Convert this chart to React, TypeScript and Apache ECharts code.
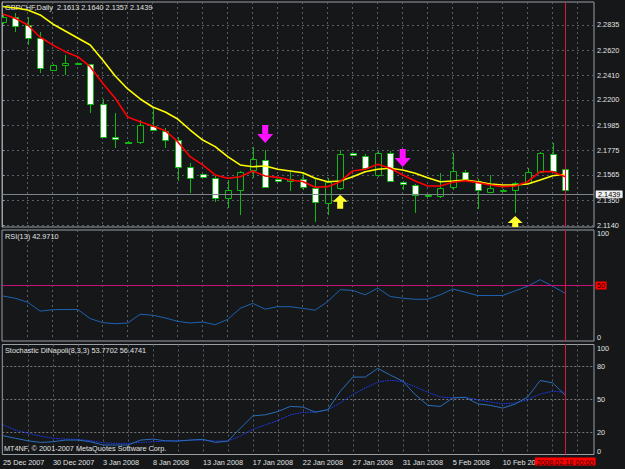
import React, { useEffect, useRef } from 'react';
import * as echarts from 'echarts';

// ---------- data ----------
const SYMBOL_HEADER = 'GBPCHF,Daily  2.1613 2.1640 2.1357 2.1439';
const RSI_HEADER = 'RSI(13) 42.9710';
const STOCH_HEADER = 'Stochastic DiNapoli(8,3,3) 53.7702 56.4741';
const COPYRIGHT = 'MT4NF, \u00A9 2001-2007 MetaQuotes Software Corp.';

const DATE_LABELS = ['25 Dec 2007', '30 Dec 2007', '3 Jan 2008', '8 Jan 2008', '13 Jan 2008', '17 Jan 2008', '22 Jan 2008', '27 Jan 2008', '31 Jan 2008', '5 Feb 2008', '10 Feb 2008'];
const DATE_LABEL_BARS = [0, 4, 8, 12, 16, 20, 24, 28, 32, 36, 40];
const CURRENT_BAR = 45;
const CURRENT_TIME = '2008.02.18 00:00';
const LAST_PRICE = 2.1439;

const PRICE_TICKS = [2.1140, 2.1350, 2.1565, 2.1775, 2.1985, 2.2200, 2.2410, 2.2620, 2.2835];
const RSI_LABELS = [0, 100];
const RSI_LEVEL = 50;
const STOCH_LABELS = [0, 20, 50, 80, 100];
const STOCH_LEVELS = [20, 50, 80];

const OPEN = [2.2863, 2.2900, 2.2835, 2.2727, 2.2454, 2.2494, 2.2508, 2.2502, 2.2163, 2.1888, 2.1846, 2.1846, 2.1979, 2.1939, 2.1860, 2.1634, 2.1570, 2.1536, 2.1366, 2.1437, 2.1606, 2.1691, 2.1527, 2.1513, 2.1527, 2.1451, 2.1329, 2.1451, 2.1748, 2.1725, 2.1564, 2.1748, 2.1507, 2.1479, 2.1392, 2.1386, 2.1460, 2.1587, 2.1515, 2.1422, 2.1437, 2.1437, 2.1499, 2.1592, 2.1742, 2.1613];
const HIGH = [2.2928, 2.2937, 2.2903, 2.2778, 2.2505, 2.2581, 2.2516, 2.2505, 2.2204, 2.2089, 2.1850, 2.2030, 2.2140, 2.1962, 2.1886, 2.1663, 2.1575, 2.1555, 2.1521, 2.1598, 2.1799, 2.1776, 2.1532, 2.1592, 2.1581, 2.1536, 2.1538, 2.1776, 2.1750, 2.1742, 2.1770, 2.1767, 2.1510, 2.1484, 2.1399, 2.1578, 2.1753, 2.1606, 2.1530, 2.1564, 2.1441, 2.1505, 2.1621, 2.1761, 2.1838, 2.1640];
const LOW = [2.2843, 2.2776, 2.2666, 2.2428, 2.2445, 2.2411, 2.2505, 2.2089, 2.1886, 2.1790, 2.1840, 2.1824, 2.1937, 2.1790, 2.1515, 2.1409, 2.1545, 2.1337, 2.1282, 2.1225, 2.1536, 2.1460, 2.1508, 2.1428, 2.1437, 2.1168, 2.1225, 2.1437, 2.1729, 2.1606, 2.1547, 2.1505, 2.1437, 2.1239, 2.1389, 2.1366, 2.1437, 2.1513, 2.1273, 2.1411, 2.1434, 2.1244, 2.1495, 2.1585, 2.1594, 2.1357];
const CLOSE = [2.2905, 2.2827, 2.2725, 2.2473, 2.2494, 2.2516, 2.2511, 2.2166, 2.1888, 2.1866, 2.1844, 2.1988, 2.1945, 2.1860, 2.1634, 2.1536, 2.1549, 2.1366, 2.1437, 2.1592, 2.1697, 2.1465, 2.1513, 2.1527, 2.1465, 2.1337, 2.1507, 2.1739, 2.1731, 2.1621, 2.1748, 2.1513, 2.1487, 2.1394, 2.1396, 2.1456, 2.1598, 2.1527, 2.1437, 2.1451, 2.1439, 2.1499, 2.1587, 2.1748, 2.1600, 2.1439];

const MA_FAST = [2.2928, 2.2892, 2.2835, 2.2731, 2.2666, 2.2609, 2.2566, 2.2482, 2.2341, 2.2214, 2.2055, 2.2016, 2.1979, 2.1939, 2.1846, 2.1719, 2.1649, 2.1564, 2.1536, 2.1549, 2.1598, 2.1555, 2.1544, 2.1521, 2.1509, 2.1460, 2.1465, 2.1507, 2.1598, 2.1612, 2.1654, 2.1621, 2.1564, 2.1513, 2.1471, 2.1471, 2.1502, 2.1515, 2.1499, 2.1479, 2.1465, 2.1471, 2.1507, 2.1592, 2.1592, 2.1549];
const MA_SLOW = [2.2992, 2.2979, 2.2962, 2.2920, 2.2844, 2.2784, 2.2725, 2.2666, 2.2538, 2.2403, 2.2293, 2.2208, 2.2140, 2.2098, 2.2038, 2.1945, 2.1860, 2.1804, 2.1719, 2.1649, 2.1634, 2.1640, 2.1612, 2.1598, 2.1583, 2.1536, 2.1507, 2.1513, 2.1549, 2.1592, 2.1612, 2.1621, 2.1606, 2.1578, 2.1541, 2.1507, 2.1513, 2.1521, 2.1507, 2.1488, 2.1479, 2.1479, 2.1488, 2.1521, 2.1558, 2.1570];

const SELL_SIGNALS = [[21, 2.1911], [32, 2.1708]];
const BUY_SIGNALS = [[27, 2.1337], [41, 2.1157]];

const RSI = [40.6, 38.5, 34.9, 26.9, 28.2, 28.4, 28.4, 20.2, 16.5, 15.6, 16.2, 24.1, 23.2, 20.8, 17.7, 16.2, 17.1, 14.7, 19.5, 29.4, 33.9, 28.7, 30.9, 30.9, 29.4, 27.8, 35.5, 46.2, 45.6, 41.6, 47.7, 40.1, 38.5, 37.6, 37.6, 41.6, 46.8, 44.0, 41.0, 41.0, 41.0, 45.2, 49.3, 55.3, 49.3, 43.0];
const STOCH_MAIN = [17.1, 14.7, 12.5, 11.0, 11.6, 13.1, 13.1, 11.6, 8.6, 8.6, 8.6, 13.1, 14.0, 12.5, 12.2, 13.1, 13.8, 11.0, 12.2, 23.9, 35.1, 36.1, 39.1, 43.7, 43.1, 38.5, 40.7, 57.5, 70.4, 70.4, 78.3, 72.2, 66.7, 54.4, 44.7, 43.7, 51.4, 52.0, 46.1, 44.7, 42.2, 45.9, 52.3, 67.3, 65.1, 53.8];
const STOCH_SIGNAL = [26.9, 22.3, 19.3, 16.8, 14.7, 14.0, 13.8, 12.5, 10.7, 10.1, 10.1, 11.0, 11.6, 12.2, 12.5, 13.1, 13.1, 12.2, 12.2, 16.8, 22.9, 26.9, 30.9, 36.1, 38.3, 38.5, 40.7, 46.8, 54.4, 60.6, 65.8, 67.6, 66.1, 61.5, 56.6, 52.3, 51.4, 52.0, 49.8, 47.7, 46.1, 46.8, 49.8, 55.0, 57.5, 56.5];

// ---------- styling ----------
const BG = '#151719';
const GRID_COLOR = '#59606a';
const BORDER = '#9a9fa5';
const GREEN = '#12b812';
const TEXT = '#e2e2e2';
const TIME_LINE = '#e0143c';
const FONT = 'Liberation Sans, Arial, sans-serif';
const FS = 7.3;
const X_MIN = -0.056;
const X_MAX = 47.304;
const P_MIN = 2.11231;
const P_MAX = 2.30299;
const GRID_BARS = Array.from({ length: 23 }, (_, i) => 2 * (i + 1));

function candleItem(params: any, api: any) {
  const k = api.value(0);
  const o = api.value(1);
  const c = api.value(2);
  const l = api.value(3);
  const h = api.value(4);
  const pO = api.coord([k, o]);
  const pC = api.coord([k, c]);
  const pL = api.coord([k, l]);
  const pH = api.coord([k, h]);
  const cx = Math.round(pO[0]) + 0.5;
  const top = Math.round(Math.min(pO[1], pC[1])) + 0.5;
  let bot = Math.round(Math.max(pO[1], pC[1])) + 0.5;
  if (bot - top < 1) bot = top + 1;
  const bear = c < o;
  return {
    type: 'group',
    children: [
      { type: 'line', shape: { x1: cx, y1: Math.round(pH[1]), x2: cx, y2: Math.round(pL[1]) }, style: { stroke: GREEN, lineWidth: 1 } },
      { type: 'rect', shape: { x: cx - 3, y: top, width: 6, height: bot - top }, style: { fill: bear ? '#ffffff' : BG, stroke: GREEN, lineWidth: 1 } },
    ],
  };
}

function arrowItem(params: any, api: any) {
  const k = api.value(0);
  const p = api.value(1);
  const dir = api.value(2);
  const [cx, cy] = api.coord([k, p]);
  let points: number[][];
  let fill: string;
  if (dir < 0) {
    points = [[cx - 3, cy - 9], [cx + 3, cy - 9], [cx + 3, cy], [cx + 8, cy], [cx, cy + 9], [cx - 8, cy], [cx - 3, cy]];
    fill = '#ff10ff';
  } else {
    points = [[cx, cy - 7], [cx + 7.5, cy], [cx + 3, cy], [cx + 3, cy + 7], [cx - 3, cy + 7], [cx - 3, cy], [cx - 7.5, cy]];
    fill = '#ffff30';
  }
  return { type: 'polygon', shape: { points }, style: { fill } };
}

// vertical marker of the current bar, drawn through the panel's own axes
function timeMarkerItem(params: any, api: any) {
  const k = api.value(0);
  const lo = api.value(1);
  const hi = api.value(2);
  const a = api.coord([k, lo]);
  const b = api.coord([k, hi]);
  const x = Math.round(a[0]) + 0.5;
  return { type: 'line', shape: { x1: x, y1: a[1], x2: x, y2: b[1] }, style: { stroke: TIME_LINE, lineWidth: 1 } };
}

function edgeRich() {
  return {
    t: { padding: [7, 0, 0, 0], color: TEXT, fontSize: FS, fontFamily: FONT },
    b: { padding: [0, 0, 7, 0], color: TEXT, fontSize: FS, fontFamily: FONT },
  };
}

function buildOption(): any {
  const gridBase = { left: 2, right: 31, show: true, borderColor: BORDER, borderWidth: 1, backgroundColor: 'transparent' };
  const markBase = {
    silent: true,
    symbol: ['none', 'none'],
    animation: false,
    emphasis: { disabled: true },
    label: { show: false },
  };
  const panelRanges = [[P_MIN, P_MAX], [0, 100], [0, 100]];
  return {
    backgroundColor: BG,
    animation: false,
    textStyle: { fontFamily: FONT },
    grid: [
      { ...gridBase, top: 2, height: 225 },
      { ...gridBase, top: 230, height: 111 },
      { ...gridBase, top: 344.5, height: 110 },
    ],
    xAxis: [0, 1, 2].map((i) => ({
      type: 'value',
      gridIndex: i,
      min: X_MIN,
      max: X_MAX,
      axisLine: { show: false },
      axisTick: { show: false, customValues: GRID_BARS },
      splitLine: { show: true, lineStyle: { color: GRID_COLOR, width: 1, type: [2, 3] } },
      axisLabel:
        i === 2
          ? {
              show: true,
              customValues: DATE_LABEL_BARS,
              formatter: (v: number) => {
                const idx = DATE_LABEL_BARS.indexOf(Math.round(v));
                return idx >= 0 ? DATE_LABELS[idx] : '';
              },
              align: 'left',
              color: TEXT,
              fontSize: FS,
              fontFamily: FONT,
              margin: 4,
            }
          : { show: false },
    })),
    yAxis: [
      {
        type: 'value',
        gridIndex: 0,
        position: 'right',
        min: P_MIN,
        max: P_MAX,
        axisLine: { show: true, lineStyle: { color: BORDER } },
        axisTick: { show: true, length: 2, customValues: PRICE_TICKS, lineStyle: { color: BORDER } },
        axisLabel: { customValues: PRICE_TICKS, formatter: (v: number) => v.toFixed(4), color: TEXT, fontSize: FS, fontFamily: FONT, margin: 3, lineHeight: 8 },
        splitLine: { show: true, lineStyle: { color: GRID_COLOR, width: 1, type: [2, 3] } },
      },
      {
        type: 'value',
        gridIndex: 1,
        position: 'right',
        min: 0,
        max: 100,
        axisLine: { show: false },
        axisTick: { show: false },
        splitLine: { show: false },
        axisLabel: {
          customValues: RSI_LABELS,
          formatter: (v: number) => (v >= 100 ? '{t|100}' : '{b|0}'),
          rich: edgeRich(),
          color: TEXT,
          fontSize: FS,
          margin: 3,
        },
      },
      {
        type: 'value',
        gridIndex: 2,
        position: 'right',
        min: 0,
        max: 100,
        axisLine: { show: false },
        axisTick: { show: false, customValues: STOCH_LEVELS },
        splitLine: { show: true, lineStyle: { color: '#7a7a7a', width: 1, type: [2, 2] } },
        axisLabel: {
          customValues: STOCH_LABELS,
          formatter: (v: number) => (v >= 100 ? '{t|100}' : v <= 0 ? '{b|0}' : String(v)),
          rich: edgeRich(),
          color: TEXT,
          fontSize: FS,
          fontFamily: FONT,
          margin: 3,
        },
      },
    ],
    graphic: [
      { type: 'text', left: 5, top: 3.5, z: 1, style: { text: SYMBOL_HEADER, fill: TEXT, fontSize: FS, fontFamily: FONT } },
      { type: 'text', left: 5, top: 233, z: 10, style: { text: RSI_HEADER, fill: TEXT, fontSize: FS, fontFamily: FONT } },
      { type: 'text', left: 5, top: 346.5, z: 10, style: { text: STOCH_HEADER, fill: TEXT, fontSize: FS, fontFamily: FONT } },
      { type: 'text', left: 4, top: 445, z: 10, style: { text: COPYRIGHT, fill: TEXT, fontSize: FS, fontFamily: FONT } },
    ],
    series: [
      ...[0, 1, 2].map((i) => ({
        type: 'custom',
        name: 'current bar ' + i,
        xAxisIndex: i,
        yAxisIndex: i,
        z: 6,
        silent: true,
        renderItem: timeMarkerItem,
        data: [[CURRENT_BAR, panelRanges[i][0], panelRanges[i][1]]],
      })),
      {
        type: 'custom',
        name: 'GBPCHF',
        xAxisIndex: 0,
        yAxisIndex: 0,
        clip: true,
        z: 2,
        dimensions: ['bar', 'open', 'close', 'low', 'high'],
        encode: { x: 0, y: [1, 2, 3, 4] },
        renderItem: candleItem,
        data: OPEN.map((o, k) => [k, o, CLOSE[k], LOW[k], HIGH[k]]),
      },
      {
        type: 'line',
        name: 'MA slow',
        xAxisIndex: 0,
        yAxisIndex: 0,
        symbol: 'none',
        z: 3,
        color: '#ffff00',
        lineStyle: { color: '#ffff00', width: 1.6 },
        data: MA_SLOW.map((v, k) => [k, v]),
      },
      {
        type: 'line',
        name: 'MA fast',
        xAxisIndex: 0,
        yAxisIndex: 0,
        symbol: 'none',
        z: 4,
        color: '#ff0000',
        lineStyle: { color: '#ff0000', width: 1.6 },
        data: MA_FAST.map((v, k) => [k, v]),
        markLine: {
          ...markBase,
          data: [
            {
              yAxis: LAST_PRICE,
              lineStyle: { color: '#7d848c', width: 1, type: 'solid' },
              label: {
                show: true,
                position: 'end',
                distance: 2,
                formatter: LAST_PRICE.toFixed(4),
                backgroundColor: '#f2f2f2',
                borderColor: '#9a9a9a',
                borderWidth: 0.5,
                color: '#000000',
                fontSize: FS,
                fontFamily: FONT,
                lineHeight: 7,
                padding: [0, 2, 0, 2],
              },
            },
          ],
        },
      },
      {
        type: 'custom',
        name: 'signals',
        xAxisIndex: 0,
        yAxisIndex: 0,
        clip: true,
        z: 5,
        renderItem: arrowItem,
        data: [...SELL_SIGNALS.map(([k, p]) => [k, p, -1]), ...BUY_SIGNALS.map(([k, p]) => [k, p, 1])],
      },
      {
        type: 'line',
        name: 'RSI(13)',
        xAxisIndex: 1,
        yAxisIndex: 1,
        symbol: 'none',
        color: '#1e62b2',
        lineStyle: { color: '#1e62b2', width: 1 },
        data: RSI.map((v, k) => [k, v]),
        markLine: {
          ...markBase,
          data: [
            {
              yAxis: RSI_LEVEL,
              lineStyle: { color: '#c8107a', width: 1, type: 'solid' },
              label: {
                show: true,
                position: 'end',
                distance: 1.5,
                formatter: String(RSI_LEVEL),
                backgroundColor: '#ff0000',
                color: '#1a0000',
                fontSize: FS,
                fontFamily: FONT,
                lineHeight: 8,
                padding: [0, 1.5, 0, 1.5],
              },
            },
          ],
        },
      },
      {
        type: 'line',
        name: 'Stoch main',
        xAxisIndex: 2,
        yAxisIndex: 2,
        symbol: 'none',
        z: 3,
        color: '#2a6cba',
        lineStyle: { color: '#2a6cba', width: 1 },
        data: STOCH_MAIN.map((v, k) => [k, v]),
        markLine: {
          ...markBase,
          data: [
            {
              xAxis: CURRENT_BAR,
              lineStyle: { color: TIME_LINE, width: 1, type: 'solid' },
              label: {
                show: true,
                position: 'start',
                distance: 3,
                formatter: CURRENT_TIME,
                backgroundColor: '#ff0000',
                color: '#2a0000',
                fontSize: FS,
                fontFamily: FONT,
                padding: [1, 2, 0, 2],
              },
            },
          ],
        },
      },
      {
        type: 'line',
        name: 'Stoch signal',
        xAxisIndex: 2,
        yAxisIndex: 2,
        symbol: 'none',
        z: 2,
        color: '#1f3cff',
        lineStyle: { color: '#1f3cff', width: 1, type: [1.5, 1] },
        data: STOCH_SIGNAL.map((v, k) => [k, v]),
      },
    ],
  };
}

export default function App() {
  const ref = useRef<HTMLDivElement>(null);
  useEffect(() => {
    if (!ref.current) return;
    const chart = echarts.init(ref.current, null, { renderer: 'svg' });
    chart.setOption(buildOption());
    return () => chart.dispose();
  }, []);
  return <div ref={ref} style={{ position: 'fixed', left: 0, top: 0, width: 625, height: 469 }} />;
}
